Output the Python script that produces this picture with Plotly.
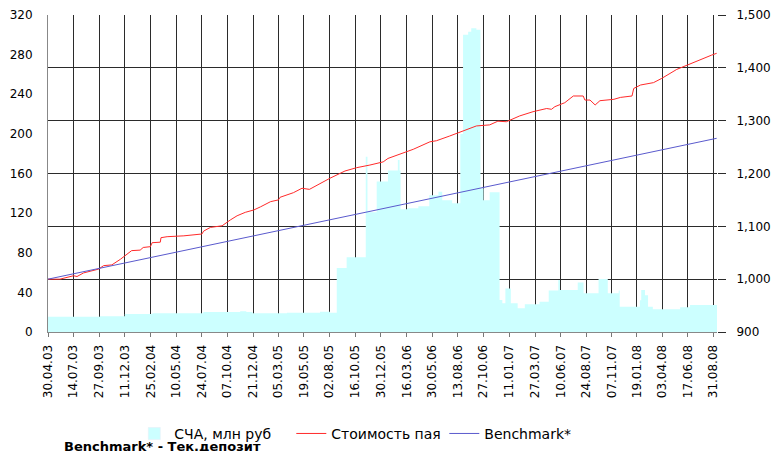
import plotly.graph_objects as go

# ---- tick labels (x axis) ----
tick_dates = ["2003-04-30", "2003-07-14", "2003-09-27", "2003-12-11", "2004-02-25", "2004-05-10",
              "2004-07-24", "2004-10-07", "2004-12-21", "2005-03-05", "2005-05-19", "2005-08-02",
              "2005-10-16", "2005-12-30", "2006-03-16", "2006-05-30", "2006-08-13", "2006-10-27",
              "2007-01-11", "2007-03-27", "2007-06-10", "2007-08-24", "2007-11-07", "2008-01-19",
              "2008-04-03", "2008-06-17", "2008-08-31"]
tick_labels = ["30.04.03", "14.07.03", "27.09.03", "11.12.03", "25.02.04", "10.05.04",
               "24.07.04", "07.10.04", "21.12.04", "05.03.05", "19.05.05", "02.08.05",
               "16.10.05", "30.12.05", "16.03.06", "30.05.06", "13.08.06", "27.10.06",
               "11.01.07", "27.03.07", "10.06.07", "24.08.07", "07.11.07", "19.01.08",
               "03.04.08", "17.06.08", "31.08.08"]

# ---- СЧА, млн руб (left axis, step area) ----
nav_dates = ["2003-04-30", "2003-09-29", "2003-12-11", "2004-03-01", "2004-07-28", "2004-11-13",
             "2004-12-01", "2004-12-19", "2005-03-30", "2005-07-05", "2005-08-03", "2005-08-23",
             "2005-09-21", "2005-11-16", "2005-11-21", "2005-12-18", "2006-01-20", "2006-02-18",
             "2006-02-23", "2006-02-26", "2006-03-18", "2006-04-19", "2006-05-21", "2006-06-17",
             "2006-06-28", "2006-07-27", "2006-08-20", "2006-08-28", "2006-09-12", "2006-09-21",
             "2006-10-06", "2006-10-18", "2006-10-27", "2006-11-14", "2006-12-13", "2006-12-21",
             "2006-12-30", "2007-01-15", "2007-02-04", "2007-02-25", "2007-04-09", "2007-05-06",
             "2007-06-03", "2007-06-08", "2007-07-30", "2007-08-16", "2007-09-29", "2007-10-26",
             "2007-11-27", "2007-11-30", "2008-01-28", "2008-02-01", "2008-02-12", "2008-02-21",
             "2008-03-06", "2008-05-25", "2008-06-23", "2008-09-10"]
nav_values = [15.5, 16, 18.2, 19, 20.3, 21,
              20.3, 19, 19.5, 20.5, 19.5, 64.5,
              75.5, 177, 121, 152, 163, 173.6,
              163, 124, 125, 127, 138, 141.6,
              133, 130, 200, 300, 303, 306.5,
              305, 145, 133, 141, 32.3, 29,
              44, 29, 24, 28, 30.5, 42,
              52.5, 42.4, 50, 39, 53.5, 39,
              42, 25.5, 32, 42.4, 37, 25.5,
              23, 25, 27.3, 27.3]

# ---- Стоимость пая (right axis) ----
unit_dates = ["2003-04-30", "2003-06-04", "2003-07-14", "2003-07-24", "2003-08-12", "2003-09-25",
              "2003-10-10", "2003-11-03", "2003-11-28", "2003-12-16", "2003-12-31", "2004-01-25",
              "2004-02-03", "2004-02-24", "2004-02-29", "2004-03-24", "2004-03-26", "2004-04-13",
              "2004-06-01", "2004-07-24", "2004-07-29", "2004-08-18", "2004-09-21", "2004-10-15",
              "2004-11-04", "2004-11-28", "2004-12-23", "2005-01-12", "2005-02-10", "2005-03-05",
              "2005-03-10", "2005-04-18", "2005-05-08", "2005-05-13", "2005-06-04", "2005-06-26",
              "2005-08-03", "2005-09-16", "2005-10-20", "2005-11-28", "2005-12-22", "2006-01-06",
              "2006-01-20", "2006-02-24", "2006-04-04", "2006-05-23", "2006-06-11", "2006-07-20",
              "2006-08-28", "2006-10-06", "2006-11-14", "2006-12-08", "2007-01-02", "2007-02-10",
              "2007-03-21", "2007-04-30", "2007-05-14", "2007-05-24", "2007-06-22", "2007-07-17",
              "2007-08-15", "2007-08-20", "2007-09-04", "2007-09-19", "2007-10-03", "2007-10-23",
              "2007-11-13", "2007-12-02", "2008-01-05", "2008-01-10", "2008-01-30", "2008-03-08",
              "2008-04-01", "2008-05-15", "2008-06-13", "2008-07-22", "2008-08-25", "2008-09-09"]
unit_values = [1000, 1000, 1006.5, 1005, 1011.8, 1019,
               1025.6, 1027, 1037.6, 1045.7, 1054, 1055,
               1060, 1061.5, 1069, 1070, 1078.5, 1080.4,
               1082, 1085.5, 1091, 1098, 1101, 1112,
               1120, 1126.5, 1131, 1137, 1146.7, 1150,
               1155, 1163.7, 1170, 1172, 1170, 1178,
               1191, 1204.7, 1211, 1216, 1219, 1222,
               1228.5, 1237, 1245.8, 1260, 1262, 1271,
               1281, 1290, 1292, 1299, 1298, 1309,
               1317, 1323, 1321.5, 1326.5, 1334, 1346.7,
               1346.7, 1339, 1339, 1329.7, 1337.8, 1339,
               1340.4, 1344, 1346.7, 1361, 1367.5, 1372,
               1380, 1397, 1405, 1415, 1424, 1427.5]

# ---- Benchmark* (right axis) ----
bench_dates = ["2003-04-30", "2005-12-30", "2008-09-09"]
bench_values = [1000, 1132.6, 1266.6]

NAV_COLOR = "#CCFFFF"
RED = "#FF2A2A"
BLUE = "#5A5ACD"
GRID = "#2b2b2b"
FONT = "DejaVu Sans"

fig = go.Figure()

# area (no legend entry itself)
fig.add_trace(go.Scatter(x=nav_dates, y=nav_values, mode="lines", line=dict(width=0, shape="hv"),
                         fill="tozeroy", fillcolor=NAV_COLOR, showlegend=False, hoverinfo="skip",
                         yaxis="y"))
# legend square for the area
fig.add_trace(go.Bar(x=[None], y=[None], name="СЧА, млн руб", marker=dict(color=NAV_COLOR),
                     showlegend=True, legendwidth=112))
fig.add_trace(go.Scatter(x=unit_dates, y=unit_values, mode="lines", name="Стоимость пая",
                         line=dict(color=RED, width=1), yaxis="y2", legendwidth=108))
fig.add_trace(go.Scatter(x=bench_dates, y=bench_values, mode="lines", name="Benchmark*",
                         line=dict(color=BLUE, width=1), yaxis="y2", legendwidth=90))

fig.update_layout(
    width=773, height=451,
    margin=dict(l=48, r=56, t=15, b=119, autoexpand=False),
    paper_bgcolor="white", plot_bgcolor="white",
    font=dict(family=FONT, size=12, color="black"),
    xaxis=dict(type="date", range=["2003-04-30", "2008-09-10"],
               tickmode="array", tickvals=tick_dates, ticktext=tick_labels,
               tickangle=-90, ticks="outside", ticklen=4, tickcolor="#777",
               ticklabelstandoff=3,
               showgrid=True, gridcolor=GRID, gridwidth=1,
               showline=True, linecolor="#888", linewidth=1, automargin=False,
               zeroline=False, tickfont=dict(family=FONT, size=12)),
    yaxis=dict(range=[0, 320], tickmode="linear", tick0=0, dtick=40,
               showgrid=False, zeroline=False, showline=True, linecolor="#888",
               ticks="outside", ticklen=12, tickcolor="rgba(0,0,0,0)", automargin=False,
               tickfont=dict(family=FONT, size=12)),
    yaxis2=dict(range=[900, 1500], tickmode="linear", tick0=900, dtick=100,
                overlaying="y", side="right", tickformat=",d",
                showgrid=True, gridcolor=GRID, gridwidth=1, zeroline=False,
                ticks="outside", ticklen=8, tickcolor=GRID, showline=False,
                ticklabelstandoff=8, automargin=False,
                tickfont=dict(family=FONT, size=12)),
    legend=dict(orientation="h", x=0.129, xanchor="left", yref="container",
                y=0.038, yanchor="middle",
                font=dict(family=FONT, size=14), bgcolor="rgba(0,0,0,0)",
                traceorder="normal"),
    showlegend=True,
    annotations=[dict(text="<b>Benchmark* - Тек.депозит</b>", xref="paper", yref="paper",
                      x=0.021, y=-0.361, xanchor="left", yanchor="middle", showarrow=False,
                      font=dict(family=FONT, size=13, color="black"))],
)

fig.write_html("out.html", config={"displayModeBar": False},
               post_script="document.body.style.margin='0';document.body.style.overflow='hidden';")
